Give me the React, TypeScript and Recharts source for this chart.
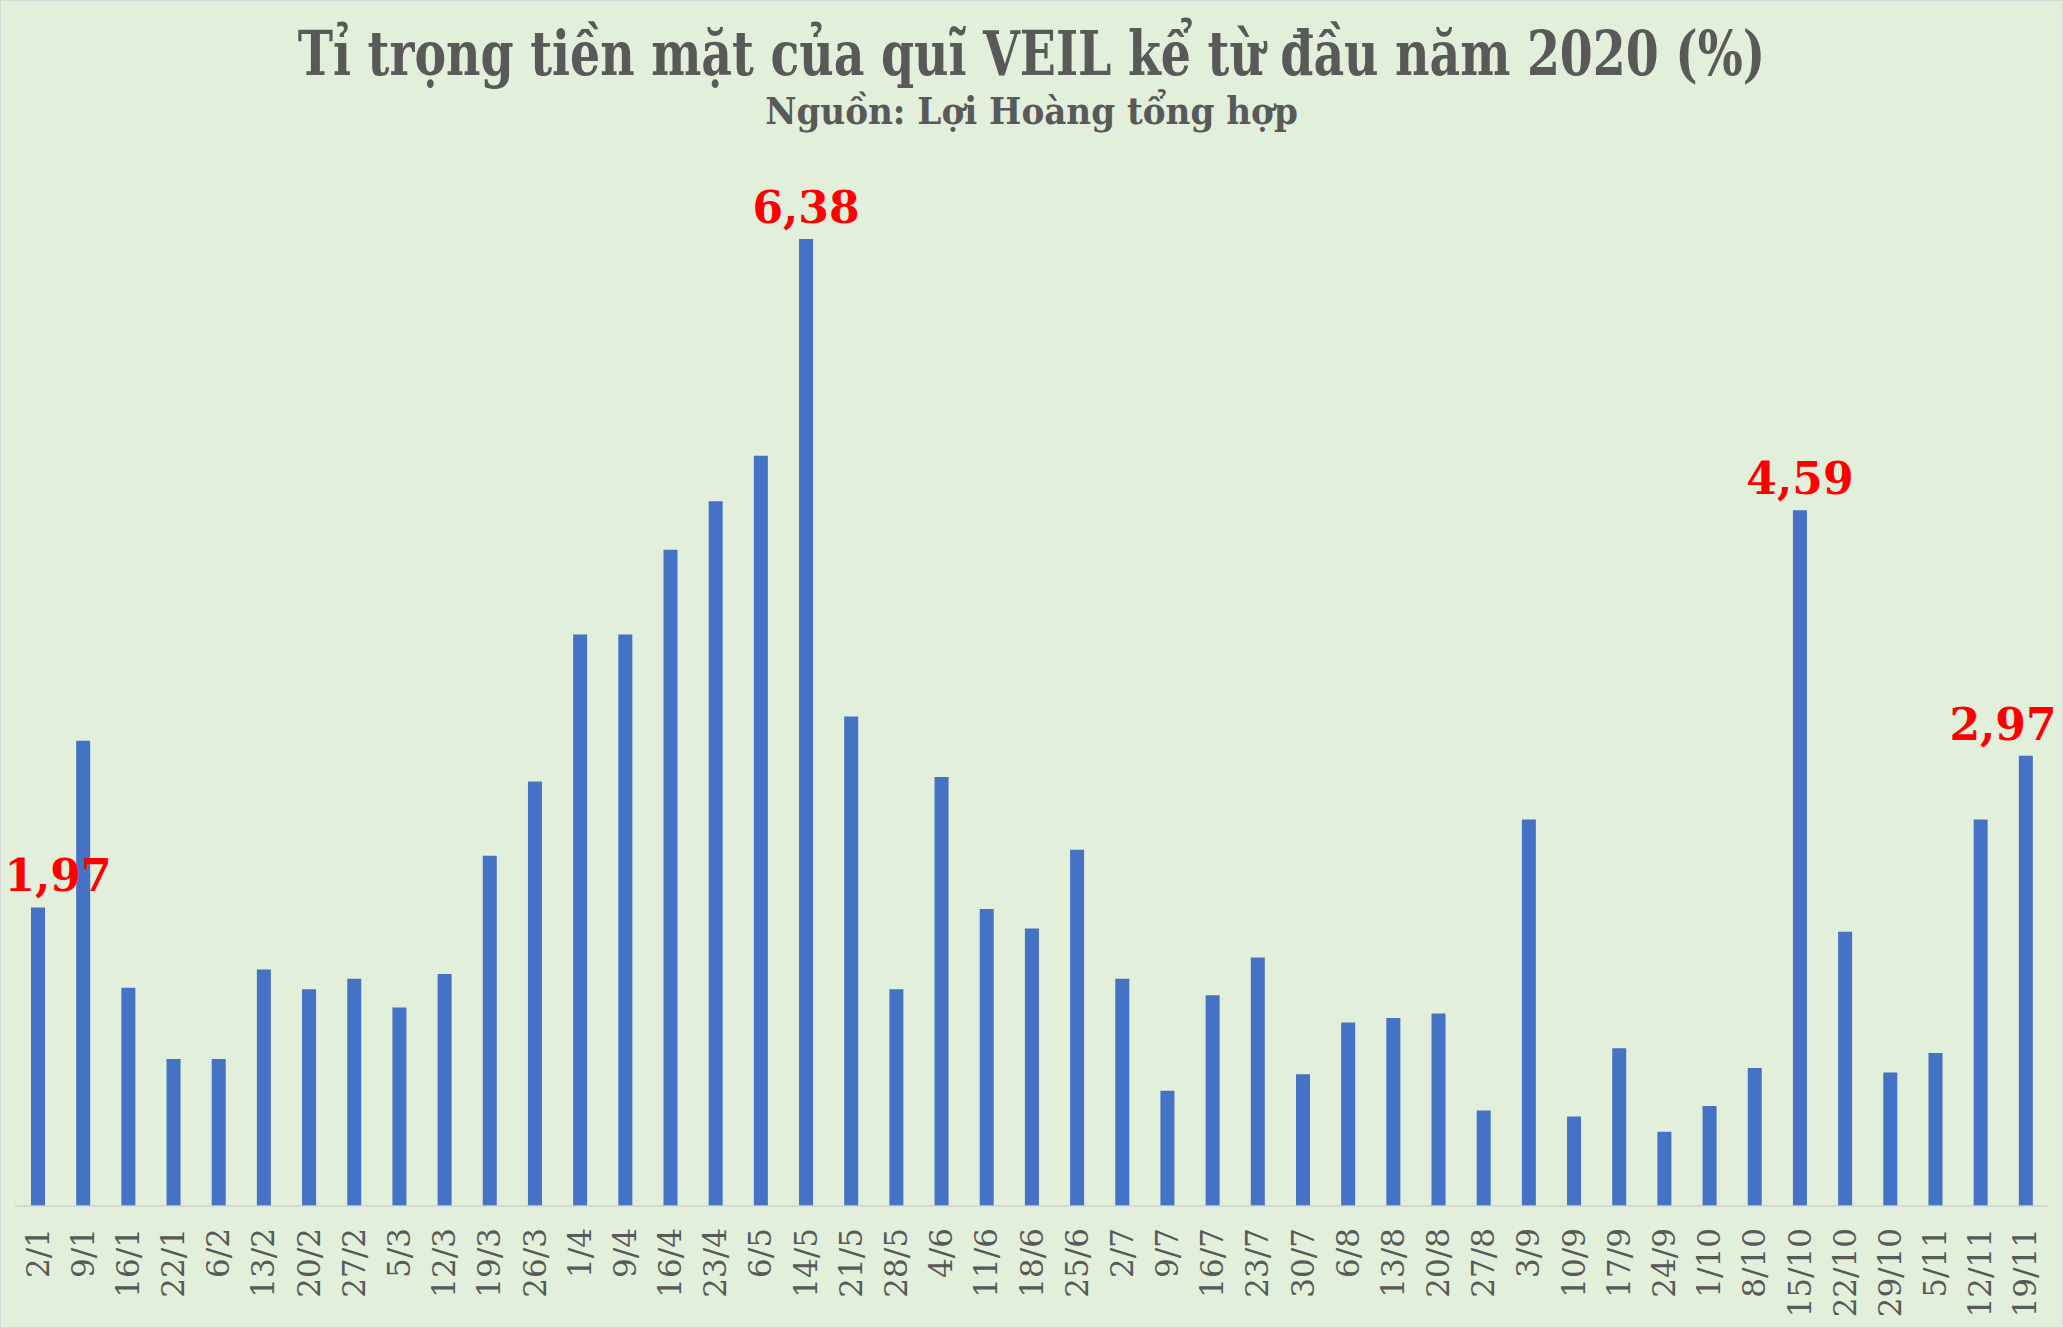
import React from "react";
import { BarChart, Bar, XAxis, YAxis, LabelList } from "recharts";

const dates = [
    "2/1", "9/1", "16/1", "22/1", "6/2", "13/2", "20/2", "27/2", "5/3", "12/3",
    "19/3", "26/3", "1/4", "9/4", "16/4", "23/4", "6/5", "14/5", "21/5", "28/5",
    "4/6", "11/6", "18/6", "25/6", "2/7", "9/7", "16/7", "23/7", "30/7", "6/8",
    "13/8", "20/8", "27/8", "3/9", "10/9", "17/9", "24/9", "1/10", "8/10", "15/10",
    "22/10", "29/10", "5/11", "12/11", "19/11",
];

const cashShare = [
    1.97, 3.07, 1.44, 0.97, 0.97, 1.56, 1.43, 1.5, 1.31, 1.53,
    2.31, 2.8, 3.77, 3.77, 4.33, 4.65, 4.95, 6.38, 3.23, 1.43,
    2.83, 1.96, 1.83, 2.35, 1.5, 0.76, 1.39, 1.64, 0.87, 1.21,
    1.24, 1.27, 0.63, 2.55, 0.59, 1.04, 0.49, 0.66, 0.91, 4.59,
    1.81, 0.88, 1.01, 2.55, 2.97,
];

// only these dates get a red value on top
const labeledDates = ["2/1", "14/5", "15/10", "19/11"];

const W = 2063;
const H = 1328;
const GRAY = "#595959";
const CONDENSED = "'DejaVu Serif Condensed', 'DejaVu Serif', serif";

const data = dates.map((d, i) => ({ date: d, value: cashShare[i] }));

const DateTick = (props: any) => {
    const { x, y, payload } = props;
    return (
        <text
            x={x}
            y={y}
            transform={`rotate(-90 ${x} ${y})`}
            textAnchor="end"
            dominantBaseline="central"
            fill={GRAY}
            fontSize={31}
            fontFamily="'DejaVu Serif', serif"
        >
            {payload.value}
        </text>
    );
};

const ValueLabel = (props: any) => {
    const { x, y, width, value, index } = props;
    if (!labeledDates.includes(dates[index])) return null;
    const cx = Math.min(Math.max(x + width / 2, 58), W - 60);
    return (
        <text
            x={cx}
            y={y - 16}
            textAnchor="middle"
            fill="#FF0000"
            fontSize={44}
            fontWeight="bold"
            fontFamily="'DejaVu Serif', serif"
        >
            {Number(value).toFixed(2).replace(".", ",")}
        </text>
    );
};

export default function App() {
    return (
        <div
            style={{
                position: "absolute",
                left: 0,
                top: 0,
                width: W,
                height: H,
                background: "#E2EFDA",
                boxShadow: "inset 0 0 0 1px #D9D9D9",
            }}
        >
            <svg
                width={W}
                height={140}
                style={{ position: "absolute", left: 0, top: 0 }}
            >
                {/* squeeze a bit, the original font is narrower */}
                <text
                    transform={`translate(${W / 2} 75) scale(0.85 1)`}
                    textAnchor="middle"
                    fill={GRAY}
                    fontSize={62}
                    fontWeight="bold"
                    fontFamily={CONDENSED}
                >
                    Tỉ trọng tiền mặt của quĩ VEIL kể từ đầu năm 2020 (%)
                </text>
                <text
                    x={W / 2}
                    y={124}
                    textAnchor="middle"
                    fill={GRAY}
                    fontSize={38}
                    fontWeight="bold"
                    fontFamily={CONDENSED}
                >
                    Nguồn: Lợi Hoàng tổng hợp
                </text>
            </svg>
            <BarChart
                width={W}
                height={H}
                data={data}
                margin={{ top: 145, right: 15, bottom: 0, left: 15 }}
                barCategoryGap={0}
            >
                <XAxis
                    dataKey="date"
                    interval={0}
                    height={122}
                    tickSize={0}
                    tickMargin={22}
                    tickLine={false}
                    axisLine={{ stroke: "#D0D0D0", strokeWidth: 1.5 }}
                    tick={<DateTick />}
                />
                <YAxis hide domain={[0, 7]} />
                <Bar
                    dataKey="value"
                    fill="#4472C4"
                    barSize={14}
                    isAnimationActive={false}
                >
                    <LabelList dataKey="value" content={<ValueLabel />} />
                </Bar>
            </BarChart>
        </div>
    );
}
